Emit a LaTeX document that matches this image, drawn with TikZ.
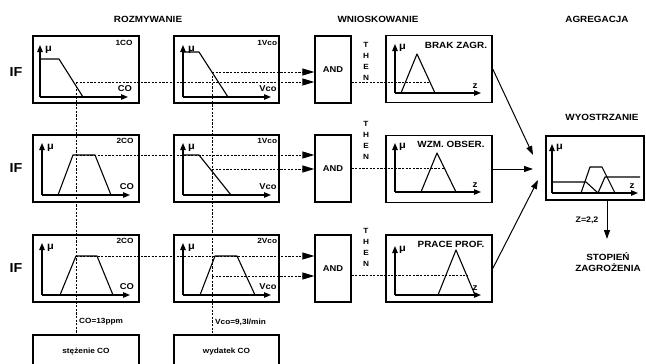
\documentclass[tikz,border=0pt]{standalone}
\usepackage{fontspec}
\setmainfont[FakeStretch=1.1]{Liberation Sans}
\usetikzlibrary{arrows.meta, positioning, calc}

\tikzset{
  fbox/.style={draw, line width=1.5pt, minimum width=106pt, minimum height=67pt, inner sep=0pt},
  andbox/.style={draw, line width=1.3pt, minimum width=36pt, minimum height=67pt, inner sep=0pt, font=\fontsize{8.5}{10}\selectfont\bfseries},
  axis/.style={line width=1.1pt, -{Triangle[length=7pt,width=5.5pt]}},
  mf/.style={line width=1.1pt, line join=round},
  cut/.style={line width=1pt, dash pattern=on 2.2pt off 1.4pt},
  cutarr/.style={cut, -{Triangle[length=12pt,width=7pt]}},
  aggarr/.style={line width=1pt, -{Triangle[length=9pt,width=6pt]}},
  ttl/.style={font=\fontsize{9}{10}\selectfont\bfseries},
  iflab/.style={font=\fontsize{13}{14}\selectfont\bfseries},
  lab/.style={font=\fontsize{7.5}{9}\selectfont\bfseries, inner sep=0pt},
  axlab/.style={font=\fontsize{8.5}{9}\selectfont\bfseries, inner sep=0pt},
  zlab/.style={font=\fontsize{9}{10}\selectfont\bfseries, inner sep=0pt},
  mulab/.style={font=\fontsize{10}{10}\selectfont\bfseries, inner sep=0pt},
  thenlab/.style={font=\fontsize{7.5}{11}\selectfont\bfseries, align=center, inner sep=0pt}
}

\begin{document}
\begin{tikzpicture}[x=1pt, y=-1pt]
  \useasboundingbox (0,0) rectangle (646,364);
  \clip (0,0) rectangle (646,364);

  % Column headers
  \node[ttl] (hroz) at (148,19) {ROZMYWANIE};
  \node[ttl] (hwnio) at (378,19) {WNIOSKOWANIE};
  \node[ttl] (hagr) at (597,19) {AGREGACJA};
  \node[ttl] (hwyo) at (602,117) {WYOSTRZANIE};

  % IF
  \node[iflab] (if1) at (16,72) {IF};
  \node[iflab] (if2) at (16,168) {IF};
  \node[iflab] (if3) at (16,268) {IF};

  % Premise boxes
  \node[fbox] (co1) at (86,69.5) {};
  \node[fbox] (co2) at (86,168.5) {};
  \node[fbox] (co3) at (86,268.5) {};
  \node[fbox, minimum width=105pt] (vc1) at (226.5,69.5) {};
  \node[fbox, minimum width=105pt] (vc2) at (226.5,168.5) {};
  \node[fbox, minimum width=105pt] (vc3) at (226.5,268.5) {};
  \node[lab, anchor=north east] (co1t) at ([xshift=-7pt,yshift=-4.5pt]co1.north east) {1CO};
  \node[lab, anchor=north east] (co2t) at ([xshift=-6pt,yshift=-4pt]co2.north east) {2CO};
  \node[lab, anchor=north east] (co3t) at ([xshift=-6pt,yshift=-4pt]co3.north east) {2CO};
  \node[lab, anchor=north east] (vc1t) at ([xshift=-2.5pt,yshift=-4.5pt]vc1.north east) {1Vco};
  \node[lab, anchor=north east] (vc2t) at ([xshift=-2.5pt,yshift=-4pt]vc2.north east) {1Vco};
  \node[lab, anchor=north east] (vc3t) at ([xshift=-2.5pt,yshift=-4pt]vc3.north east) {2Vco};

  % Axes of the small plots
  \foreach \ox/\oy/\ax in {40/97/CO, 183/97/Vco, 42/195/CO, 183/195/Vco, 42/295/CO, 183/295/Vco}{
    \draw[axis] (\ox,\oy) -- (\ox,\oy-52);
    \draw[axis] (\ox,\oy) -- (\ox+88,\oy);
    \node[mulab] (mu\ox\oy) at (\ox+8.5,\oy-47) {μ};
    \node[axlab] (ax\ox\oy) at (\ox+85,\oy-8) {\ax};
  }

  % Membership functions
  \draw[mf] (40,59) -- (59,59) -- (83,97);
  \draw[mf] (183,52) -- (199,52) -- (228,97);
  \draw[mf] (58,195) -- (73,155) -- (95,155) -- (111,195);
  \draw[mf] (183,155) -- (199,155) -- (231,195);
  \draw[mf] (60,295) -- (76,256) -- (97,256) -- (113,295);
  \draw[mf] (200,295) -- (215,256) -- (237,256) -- (255,295);

  % Crisp inputs
  \node[draw, line width=1.5pt, minimum width=106pt, minimum height=34pt, lab] (stez) at (86,352) {stężenie CO};
  \node[draw, line width=1.5pt, minimum width=105pt, minimum height=34pt, lab] (wyd) at (226.5,352) {wydatek CO};
  \node[lab, anchor=west] (coval) at (79,322) {CO=13ppm};
  \node[lab, anchor=west] (vcoval) at (215,322) {Vco=9,3l/min};

  % Inference
  \node[andbox] (and1) at (333,69.5) {AND};
  \node[andbox] (and2) at (333,168.5) {AND};
  \node[andbox] (and3) at (333,268.5) {AND};
  \node[thenlab] (then1) at (366,61.5) {T\\H\\E\\N};
  \node[thenlab] (then2) at (366,140.5) {T\\H\\E\\N};
  \node[thenlab] (then3) at (366,247) {T\\H\\E\\N};

  % Degrees of membership
  \coordinate (p1) at (76,82);
  \coordinate (q1) at (212,72);
  \coordinate (p2) at (76,155);
  \coordinate (q2) at (212,169);
  \coordinate (p3) at (76,256);
  \coordinate (q3) at (212,276);
  \draw[cut] (p1) -- (p1 |- stez.north);
  \draw[cut] (q1) -- (q1 |- wyd.north);
  \draw[cutarr] (p1) -- (p1 -| and1.west);
  \draw[cutarr] (q1) -- (q1 -| and1.west);
  \draw[cutarr] (p2) -- (p2 -| and2.west);
  \draw[cutarr] (q2) -- (q2 -| and2.west);
  \draw[cutarr] (p3) -- (p3 -| and3.west);
  \draw[cutarr] (q3) -- (q3 -| and3.west);

  % Conclusions
  \node[fbox] (brak) at (439,69) {};
  \node[fbox] (wzm) at (439,169) {};
  \node[fbox] (prace) at (439,268.5) {};
  \node[zlab] (brakt) at (456,45) {BRAK ZAGR.};
  \node[zlab] (wzmt) at (451,144) {WZM. OBSER.};
  \node[zlab] (pracet) at (451,244) {PRACE PROF.};
  \draw[mf] (401,93) -- (417,54) -- (435,93);
  \draw[mf] (421,192) -- (437,153) -- (456,192);
  \draw[mf] (438,295) -- (456,250) -- (475,295);
  \coordinate (r1) at (430,82);
  \coordinate (r2) at (445,168);
  \coordinate (r3) at (467,275);
  \draw[cut] (r1 -| and1.east) -- (r1);
  \draw[cut] (r2 -| and2.east) -- (r2);
  \draw[cut] (r3 -| and3.east) -- (r3);

  % Defuzzification
  \node[fbox, minimum width=98pt, minimum height=64pt] (wyo) at (595,168) {};
  \foreach \ox/\oy in {395/93, 395/192, 395/295, 552/193}{
    \draw[axis] (\ox,\oy) -- (\ox,\oy-49);
    \draw[axis] (\ox,\oy) -- (\ox+86,\oy);
    \node[mulab] (mu\ox\oy) at (\ox+7.5,\oy-45) {μ};
    \node[zlab] (z\ox\oy) at (\ox+80,\oy-7) {z};
  }
  \draw[mf] (552,182) -- (586,182) -- (598,193) -- (605,177) -- (640,177);
  \draw[mf] (581,193) -- (590,167) -- (602,167) -- (615,193);

  % Aggregation
  \coordinate (a1) at (533,155);
  \coordinate (a2) at (533,169);
  \coordinate (a3) at (538,180);
  \draw[aggarr] (brak.east) -- (a1);
  \draw[aggarr] (wzm.east) -- (a2);
  \draw[aggarr] (prace.east) -- (a3);

  % Output
  \coordinate (zout) at (607,239);
  \draw[aggarr] (zout |- wyo.south) -- (zout);
  \node[lab, font=\fontsize{8}{9}\selectfont\bfseries] (zval) at (587,220) {Z=2,2};
  \node[thenlab, font=\fontsize{9}{11}\selectfont\bfseries] (wynik) at (608,262.5) {STOPIEŃ\\ZAGROŻENIA};
\end{tikzpicture}
\end{document}
